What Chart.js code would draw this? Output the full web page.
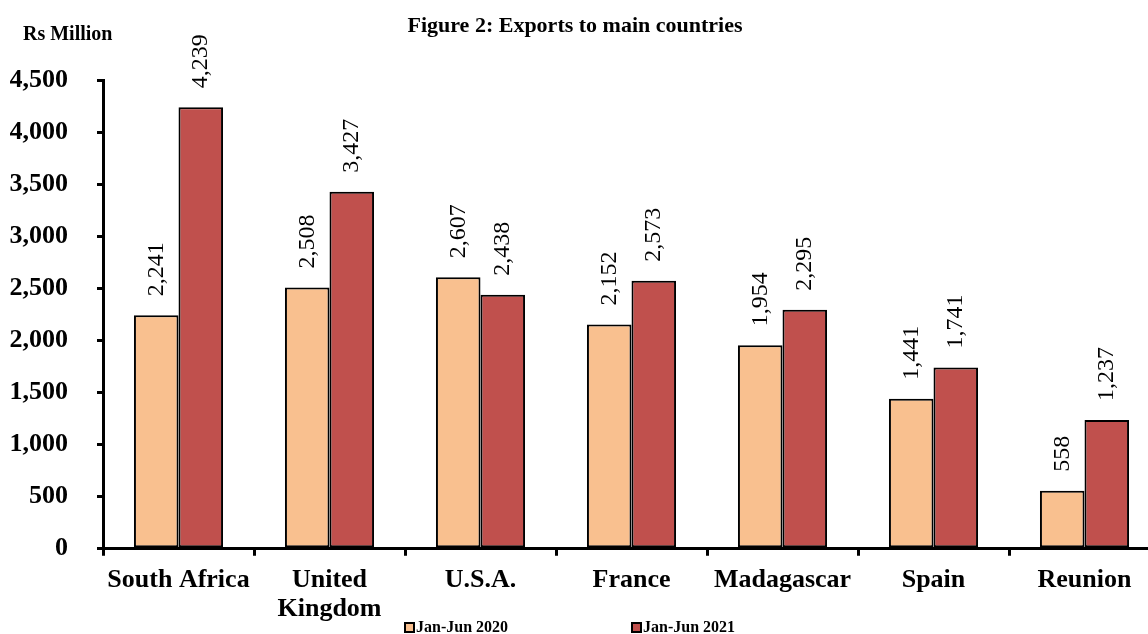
<!DOCTYPE html>
<html>
<head>
<meta charset="utf-8">
<script src="https://cdn.jsdelivr.net/npm/chart.js@4.4.1/dist/chart.umd.min.js"></script>
<style>
  body { margin: 0; background: #fff; overflow: hidden; }
  #wrap { width: 1160px; height: 634px; position: relative; }
</style>
</head>
<body>
<div id="wrap"><canvas id="exportsChart"></canvas></div>
<script>
// values (Rs Million)
var countries = ['South Africa', ['United', 'Kingdom'], 'U.S.A.', 'France', 'Madagascar', 'Spain', 'Reunion'];
var exports2020 = [2241, 2508, 2607, 2152, 1954, 1441, 558];
var exports2021 = [4239, 3427, 2438, 2573, 2295, 1741, 1237];
var yTicks = [0, 500, 1000, 1500, 2000, 2500, 3000, 3500, 4000, 4500];
var legendX = [405, 632];

var serif = '"Liberation Serif", "Times New Roman", serif';

// rotated value labels above bars, title, unit text and the legend
var labelPlugin = {
    id: 'barLabels',
    afterDatasetsDraw: function (chart) {
        var ctx = chart.ctx;
        ctx.save();
        ctx.fillStyle = '#000';
        ctx.font = '24px ' + serif;
        chart.data.datasets.forEach(function (ds, i) {
            var meta = chart.getDatasetMeta(i);
            meta.data.forEach(function (bar, j) {
                ctx.save();
                ctx.translate(bar.x, bar.y - 19);
                ctx.rotate(-Math.PI / 2);
                ctx.textAlign = 'left';
                ctx.textBaseline = 'middle';
                ctx.fillText(ds.data[j].toLocaleString('en-US'), 0, 0);
                ctx.restore();
            });
        });
        ctx.textBaseline = 'middle';
        ctx.textAlign = 'center';
        ctx.font = 'bold 22px ' + serif;
        ctx.fillText('Figure 2: Exports to main countries', 575, 26);
        ctx.textAlign = 'left';
        ctx.font = 'bold 20px ' + serif;
        ctx.fillText('Rs Million', 23, 35);

        // legend
        ctx.font = 'bold 16px ' + serif;
        chart.data.datasets.forEach(function (ds, i) {
            var x = legendX[i];
            ctx.fillStyle = ds.backgroundColor;
            ctx.fillRect(x, 623, 9, 9);
            ctx.strokeStyle = '#000';
            ctx.lineWidth = 2;
            ctx.strokeRect(x, 623, 9, 9);
            ctx.fillStyle = '#000';
            ctx.fillText(ds.label, x + 11, 628);
        });
        ctx.restore();
    }
};

var ctx = document.getElementById('exportsChart').getContext('2d');
var exportsChart = new Chart(ctx, {
    type: 'bar',
    data: {
        labels: countries,
        datasets: [{
            label: 'Jan-Jun 2020',
            data: exports2020,
            backgroundColor: '#F9C08F',
            borderColor: '#000',
            borderWidth: 2,
            borderSkipped: false,
            categoryPercentage: 0.59,
            barPercentage: 1.0
        }, {
            label: 'Jan-Jun 2021',
            data: exports2021,
            backgroundColor: '#C0504D',
            borderColor: '#000',
            borderWidth: 2,
            borderSkipped: false,
            categoryPercentage: 0.59,
            barPercentage: 1.0
        }]
    },
    options: {
        responsive: true,
        maintainAspectRatio: false,
        animation: false,
        layout: { padding: { top: 80, left: 10, right: 0, bottom: 0 } },
        plugins: {
            title: { display: false },
            tooltip: { enabled: false },
            legend: { display: false }
        },
        scales: {
            x: {
                grid: { drawOnChartArea: false, drawTicks: true, tickLength: 7, color: '#000', lineWidth: 3 },
                border: { color: '#000', width: 3 },
                ticks: {
                    color: '#000',
                    padding: 10,
                    maxRotation: 0,
                    autoSkip: false,
                    font: { family: serif, size: 26, weight: 'bold', lineHeight: 1.12 }
                }
            },
            y: {
                min: 0,
                max: 4500,
                afterBuildTicks: function (scale) {
                    scale.ticks = yTicks.map(function (v) { return { value: v }; });
                },
                afterFit: function (scale) { scale.width = 93; },
                grid: { drawOnChartArea: false, drawTicks: true, tickLength: 6, color: '#000', lineWidth: 3 },
                border: { color: '#000', width: 3 },
                ticks: {
                    color: '#000',
                    padding: 29,
                    font: { family: serif, size: 26, weight: 'bold' },
                    callback: function (v) { return v.toLocaleString('en-US'); }
                }
            }
        }
    },
    plugins: [labelPlugin]
});
</script>
</body>
</html>
